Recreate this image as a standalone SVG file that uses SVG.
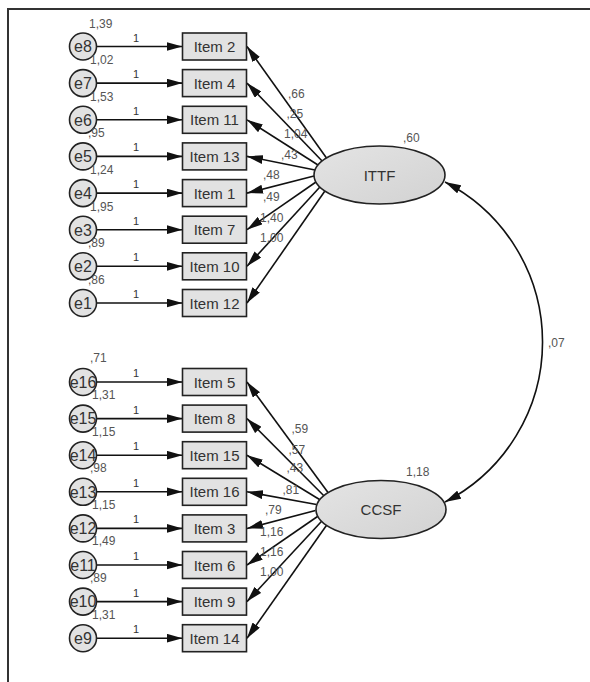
<svg xmlns="http://www.w3.org/2000/svg" width="590" height="682" viewBox="0 0 590 682">
<defs>
<marker id="ah" markerUnits="userSpaceOnUse" markerWidth="16" markerHeight="9" refX="16" refY="4.5" orient="auto-start-reverse"><path d="M0,0 L16,4.5 L0,9 z" fill="#111"/></marker>
<linearGradient id="lg" x1="0" y1="0" x2="1" y2="1"><stop offset="0" stop-color="#e4e4e4"/><stop offset="1" stop-color="#d2d2d2"/></linearGradient>
</defs>
<style>
.box{fill:#e2e2e2;stroke:#222;stroke-width:1.6}
.err{fill:#e2e2e2;stroke:#222;stroke-width:1.6}
.lat{fill:url(#lg);stroke:#222;stroke-width:1.6}
.lbl{font-family:"Liberation Sans",Arial,sans-serif;font-size:15px;fill:#333;text-anchor:middle}
.elbl{font-family:"Liberation Sans",Arial,sans-serif;font-size:16px;fill:#333;text-anchor:middle}
.num{font-family:"Liberation Sans",Arial,sans-serif;font-size:12px;fill:#555}
.one{font-family:"Liberation Sans",Arial,sans-serif;font-size:11px;fill:#333;text-anchor:middle}
.edge{stroke:#111;stroke-width:1.6;fill:none;marker-end:url(#ah)}
.cov{stroke:#111;stroke-width:1.6;fill:none;marker-start:url(#ah);marker-end:url(#ah)}
.frame{stroke:#333;stroke-width:2;fill:none}
</style>
<path class="frame" d="M8,682 L8,9 L590,9"/>
<g id="connectors">
<line class="edge" x1="96.5" y1="46.5" x2="182.5" y2="46.5"/>
<line class="edge" x1="96.5" y1="83.1" x2="182.5" y2="83.1"/>
<line class="edge" x1="96.5" y1="119.8" x2="182.5" y2="119.8"/>
<line class="edge" x1="96.5" y1="156.4" x2="182.5" y2="156.4"/>
<line class="edge" x1="96.5" y1="193.1" x2="182.5" y2="193.1"/>
<line class="edge" x1="96.5" y1="229.7" x2="182.5" y2="229.7"/>
<line class="edge" x1="96.5" y1="266.3" x2="182.5" y2="266.3"/>
<line class="edge" x1="96.5" y1="303" x2="182.5" y2="303"/>
<line class="edge" x1="96.5" y1="382" x2="182.5" y2="382"/>
<line class="edge" x1="96.5" y1="418.6" x2="182.5" y2="418.6"/>
<line class="edge" x1="96.5" y1="455.2" x2="182.5" y2="455.2"/>
<line class="edge" x1="96.5" y1="491.8" x2="182.5" y2="491.8"/>
<line class="edge" x1="96.5" y1="528.4" x2="182.5" y2="528.4"/>
<line class="edge" x1="96.5" y1="565" x2="182.5" y2="565"/>
<line class="edge" x1="96.5" y1="601.6" x2="182.5" y2="601.6"/>
<line class="edge" x1="96.5" y1="638.2" x2="182.5" y2="638.2"/>
<g class="one">
<text x="136" y="41.5">1</text><text x="136" y="78.1">1</text><text x="136" y="114.8">1</text><text x="136" y="151.4">1</text>
<text x="136" y="188.1">1</text><text x="136" y="224.7">1</text><text x="136" y="261.3">1</text><text x="136" y="298">1</text>
<text x="136" y="377">1</text><text x="136" y="413.6">1</text><text x="136" y="450.2">1</text><text x="136" y="486.8">1</text>
<text x="136" y="523.4">1</text><text x="136" y="560">1</text><text x="136" y="596.6">1</text><text x="136" y="633.2">1</text>
</g>
<line class="edge" x1="326.5" y1="158" x2="247" y2="46.5"/>
<line class="edge" x1="322.1" y1="161" x2="247" y2="83.1"/>
<line class="edge" x1="318" y1="165" x2="247" y2="119.8"/>
<line class="edge" x1="315" y1="170" x2="247" y2="156.4"/>
<line class="edge" x1="314" y1="176" x2="247" y2="193.1"/>
<line class="edge" x1="316" y1="182" x2="247" y2="229.7"/>
<line class="edge" x1="319.9" y1="187" x2="247" y2="266.3"/>
<line class="edge" x1="324.9" y1="191" x2="247" y2="303"/>
<line class="edge" x1="328" y1="492.5" x2="247" y2="382"/>
<line class="edge" x1="323.6" y1="495.5" x2="247" y2="418.6"/>
<line class="edge" x1="319.5" y1="499.5" x2="247" y2="455.2"/>
<line class="edge" x1="316.5" y1="504.5" x2="247" y2="491.8"/>
<line class="edge" x1="315.5" y1="510.5" x2="247" y2="528.4"/>
<line class="edge" x1="317.5" y1="516.5" x2="247" y2="565"/>
<line class="edge" x1="321.4" y1="521.5" x2="247" y2="601.6"/>
<line class="edge" x1="326.4" y1="525.5" x2="247" y2="638.2"/>
<path class="cov" d="M445,182 A180,180 0 0 1 445,502"/>
<g class="num">
<text x="288" y="97.5">,66</text>
<text x="286.5" y="117.5">,25</text>
<text x="284" y="137.5">1,04</text>
<text x="281" y="158.5">,43</text>
<text x="263" y="178.5">,48</text>
<text x="263" y="200.5">,49</text>
<text x="260" y="221.5">1,40</text>
<text x="260" y="241.5">1,00</text>
<text x="291.5" y="433">,59</text>
<text x="288.5" y="453.5">,57</text>
<text x="286.5" y="472">,43</text>
<text x="282.5" y="493.5">,81</text>
<text x="265" y="514">,79</text>
<text x="260" y="536">1,16</text>
<text x="260" y="556">1,16</text>
<text x="260" y="576">1,00</text>
<text x="548" y="347">,07</text>
</g>
</g>
<g id="e8"><circle class="err" cx="83" cy="46.5" r="13.5"/><text class="elbl" x="83" y="52.3">e8</text><text class="num" x="89" y="27.5">1,39</text></g>
<g id="e7"><circle class="err" cx="83" cy="83.1" r="13.5"/><text class="elbl" x="83" y="88.9">e7</text><text class="num" x="90" y="64">1,02</text></g>
<g id="e6"><circle class="err" cx="83" cy="119.8" r="13.5"/><text class="elbl" x="83" y="125.6">e6</text><text class="num" x="90" y="100.7">1,53</text></g>
<g id="e5"><circle class="err" cx="83" cy="156.4" r="13.5"/><text class="elbl" x="83" y="162.2">e5</text><text class="num" x="88" y="137.3">,95</text></g>
<g id="e4"><circle class="err" cx="83" cy="193.1" r="13.5"/><text class="elbl" x="83" y="198.9">e4</text><text class="num" x="90" y="174">1,24</text></g>
<g id="e3"><circle class="err" cx="83" cy="229.7" r="13.5"/><text class="elbl" x="83" y="235.5">e3</text><text class="num" x="90" y="210.6">1,95</text></g>
<g id="e2"><circle class="err" cx="83" cy="266.3" r="13.5"/><text class="elbl" x="83" y="272.1">e2</text><text class="num" x="88" y="247.2">,89</text></g>
<g id="e1"><circle class="err" cx="83" cy="303" r="13.5"/><text class="elbl" x="83" y="308.8">e1</text><text class="num" x="88" y="283.9">,86</text></g>
<g id="e16"><circle class="err" cx="83" cy="382" r="13.5"/><text class="elbl" x="83" y="387.8">e16</text><text class="num" x="90" y="362">,71</text></g>
<g id="e15"><circle class="err" cx="83" cy="418.6" r="13.5"/><text class="elbl" x="83" y="424.4">e15</text><text class="num" x="92" y="399">1,31</text></g>
<g id="e14"><circle class="err" cx="83" cy="455.2" r="13.5"/><text class="elbl" x="83" y="461">e14</text><text class="num" x="92" y="435.5">1,15</text></g>
<g id="e13"><circle class="err" cx="83" cy="491.8" r="13.5"/><text class="elbl" x="83" y="497.6">e13</text><text class="num" x="90" y="472">,98</text></g>
<g id="e12"><circle class="err" cx="83" cy="528.4" r="13.5"/><text class="elbl" x="83" y="534.2">e12</text><text class="num" x="92" y="508.5">1,15</text></g>
<g id="e11"><circle class="err" cx="83" cy="565" r="13.5"/><text class="elbl" x="83" y="570.8">e11</text><text class="num" x="92" y="545">1,49</text></g>
<g id="e10"><circle class="err" cx="83" cy="601.6" r="13.5"/><text class="elbl" x="83" y="607.4">e10</text><text class="num" x="90" y="582">,89</text></g>
<g id="e9"><circle class="err" cx="83" cy="638.2" r="13.5"/><text class="elbl" x="83" y="644">e9</text><text class="num" x="92" y="618.5">1,31</text></g>
<g id="item2"><rect class="box" x="182.5" y="33" width="64" height="27"/><text class="lbl" x="214.5" y="52">Item 2</text></g>
<g id="item4"><rect class="box" x="182.5" y="69.6" width="64" height="27"/><text class="lbl" x="214.5" y="88.6">Item 4</text></g>
<g id="item11"><rect class="box" x="182.5" y="106.3" width="64" height="27"/><text class="lbl" x="214.5" y="125.3">Item 11</text></g>
<g id="item13"><rect class="box" x="182.5" y="142.9" width="64" height="27"/><text class="lbl" x="214.5" y="161.9">Item 13</text></g>
<g id="item1"><rect class="box" x="182.5" y="179.6" width="64" height="27"/><text class="lbl" x="214.5" y="198.6">Item 1</text></g>
<g id="item7"><rect class="box" x="182.5" y="216.2" width="64" height="27"/><text class="lbl" x="214.5" y="235.2">Item 7</text></g>
<g id="item10"><rect class="box" x="182.5" y="252.8" width="64" height="27"/><text class="lbl" x="214.5" y="271.8">Item 10</text></g>
<g id="item12"><rect class="box" x="182.5" y="289.5" width="64" height="27"/><text class="lbl" x="214.5" y="308.5">Item 12</text></g>
<g id="item5"><rect class="box" x="182.5" y="368.5" width="64" height="27"/><text class="lbl" x="214.5" y="387.5">Item 5</text></g>
<g id="item8"><rect class="box" x="182.5" y="405.1" width="64" height="27"/><text class="lbl" x="214.5" y="424.1">Item 8</text></g>
<g id="item15"><rect class="box" x="182.5" y="441.7" width="64" height="27"/><text class="lbl" x="214.5" y="460.7">Item 15</text></g>
<g id="item16"><rect class="box" x="182.5" y="478.3" width="64" height="27"/><text class="lbl" x="214.5" y="497.3">Item 16</text></g>
<g id="item3"><rect class="box" x="182.5" y="514.9" width="64" height="27"/><text class="lbl" x="214.5" y="533.9">Item 3</text></g>
<g id="item6"><rect class="box" x="182.5" y="551.5" width="64" height="27"/><text class="lbl" x="214.5" y="570.5">Item 6</text></g>
<g id="item9"><rect class="box" x="182.5" y="588.1" width="64" height="27"/><text class="lbl" x="214.5" y="607.1">Item 9</text></g>
<g id="item14"><rect class="box" x="182.5" y="624.7" width="64" height="27"/><text class="lbl" x="214.5" y="643.7">Item 14</text></g>
<g id="ITTF"><ellipse class="lat" cx="379.5" cy="175" rx="65.5" ry="29"/><text class="lbl" x="379.5" y="180.5">ITTF</text><text class="num" x="403" y="142">,60</text></g>
<g id="CCSF"><ellipse class="lat" cx="381" cy="509.5" rx="65" ry="29"/><text class="lbl" x="381" y="515">CCSF</text><text class="num" x="406" y="476">1,18</text></g>
</svg>
